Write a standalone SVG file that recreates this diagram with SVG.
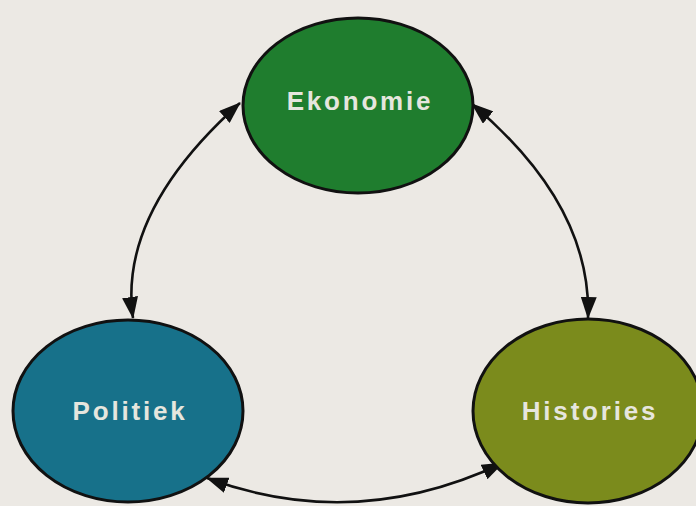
<svg xmlns="http://www.w3.org/2000/svg" width="696" height="506" viewBox="0 0 696 506">
  <style>
    .node ellipse { stroke: #111; stroke-width: 3; }
    .label { font-family: "Liberation Sans", Arial, sans-serif; font-weight: bold; font-size: 26px; fill: #e6e6de; text-anchor: middle; letter-spacing: 2.8px; }
    .link { fill: none; stroke: #111; stroke-width: 2.6; marker-start: url(#head); marker-end: url(#head); }
  </style>
  <defs>
    <marker id="head" viewBox="0 0 22 16" refX="21" refY="8" markerWidth="22" markerHeight="16" markerUnits="userSpaceOnUse" orient="auto-start-reverse">
      <path d="M0,0 L22,8 L0,16 Z" fill="#111"/>
    </marker>
  </defs>
  <rect width="696" height="506" fill="#ece9e4"/>

  <g id="connectors">
    <path class="link" d="M133,318 Q118,212 240,103"/>
    <path class="link" d="M472,104 Q592,205 588,318"/>
    <path class="link" d="M207,478 Q355,533 503,463"/>
  </g>

  <g id="ekonomie" class="node">
    <ellipse cx="358" cy="105.5" rx="115" ry="87.5" fill="#1f7d2e"/>
    <text class="label" x="360" y="110">Ekonomie</text>
  </g>

  <g id="politiek" class="node">
    <ellipse cx="128" cy="411" rx="115" ry="91" fill="#17718a"/>
    <text class="label" x="130" y="420">Politiek</text>
  </g>

  <g id="histories" class="node">
    <ellipse cx="588" cy="411" rx="115" ry="92" fill="#7b8b1c"/>
    <text class="label" x="590" y="420">Histories</text>
  </g>
</svg>
